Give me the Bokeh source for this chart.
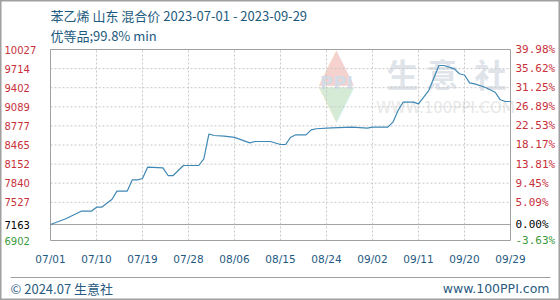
import pandas as pd
from bokeh.plotting import figure
from bokeh.models import Label, Range1d
from bokeh.embed import file_html
from bokeh.resources import INLINE

# ---------------- data ----------------
dates = ["2023-07-01", "2023-07-04", "2023-07-06", "2023-07-07", "2023-07-09",
         "2023-07-10", "2023-07-11", "2023-07-13", "2023-07-14", "2023-07-16",
         "2023-07-17", "2023-07-18", "2023-07-19", "2023-07-20", "2023-07-23",
         "2023-07-24", "2023-07-25", "2023-07-27", "2023-07-30", "2023-07-31",
         "2023-08-01", "2023-08-02", "2023-08-04", "2023-08-06", "2023-08-09",
         "2023-08-10", "2023-08-13", "2023-08-15", "2023-08-16", "2023-08-17",
         "2023-08-18", "2023-08-20", "2023-08-21", "2023-08-22", "2023-08-25",
         "2023-08-29", "2023-09-01", "2023-09-02", "2023-09-05", "2023-09-06",
         "2023-09-07", "2023-09-08", "2023-09-10", "2023-09-11", "2023-09-13",
         "2023-09-15", "2023-09-16", "2023-09-18", "2023-09-19", "2023-09-20",
         "2023-09-21", "2023-09-22", "2023-09-24", "2023-09-26", "2023-09-27",
         "2023-09-28", "2023-09-29"]
prices = [7163, 7257, 7339, 7381, 7381,
          7447, 7447, 7573, 7709, 7709,
          7895, 7895, 7916, 8101, 8091,
          7965, 7965, 8129, 8129, 8239,
          8645, 8620, 8610, 8590, 8500,
          8522, 8522, 8473, 8473, 8592,
          8631, 8631, 8713, 8730, 8746,
          8756, 8740, 8756, 8756, 8838,
          9029, 9165, 9165, 9138, 9356,
          9765, 9765, 9711, 9630, 9610,
          9482, 9465, 9410, 9328, 9204,
          9176, 9176]

base_price = 7163
y_low = 6902
y_high = 10027
y_ticks = [6902, 7163, 7527, 7840, 8152, 8465, 8777, 9089, 9402, 9714, 10027]
y_tick_labels = ["6902", "7163", "7527", "7840", "8152", "8465", "8777", "9089",
                 "9402", "9714", "10027"]
pct_labels = ["-3.63%", "0.00%", "5.09%", "9.45%", "13.81%", "18.17%", "22.53%",
              "26.89%", "31.25%", "35.62%", "39.98%"]
x_tick_labels = ["07/01", "07/10", "07/19", "07/28", "08/06", "08/15",
                 "08/24", "09/02", "09/11", "09/20", "09/29"]
title_line1 = "苯乙烯 山东 混合价 2023-07-01 - 2023-09-29"
title_line2 = "优等品;99.8% min"
footer_left = "© 2024.07 生意社"
footer_right = "www.100PPI.com"
watermark_chars = ["生", "意", "社"]
watermark_url = "WWW.100PPI.COM"

# ---------------- styling / layout constants ----------------
RED = "#c8303a"
BLUE = "#1f5a82"
GREEN = "#3c9a3c"
TITLE_COL = "#1c5a7e"
GRID = "#c8c8c8"
FRAME = "#a0a0a0"
FONT = "DejaVu Sans"
MONO = "DejaVu Sans Mono"
CJK = "Noto Sans CJK SC"
W, H = 560, 300
PLOT_L, PLOT_R, PLOT_T, PLOT_B = 50, 510, 49, 240   # plot area in canvas pixels

x = pd.to_datetime(dates)
x_ticks = pd.to_datetime(["2023/" + t for t in x_tick_labels])
x_tick_ms = [int(t.value // 10**6) for t in x_ticks]
x0_ms, x1_ms = x_tick_ms[0], x_tick_ms[-1]

ms_per_px = (x1_ms - x0_ms) / (PLOT_R - PLOT_L)
val_per_px = (y_high - y_low) / (PLOT_B - PLOT_T)
x_range = Range1d(x0_ms - PLOT_L * ms_per_px, x1_ms + (W - PLOT_R) * ms_per_px)
y_range = Range1d(y_low - (H - PLOT_B) * val_per_px, y_high + PLOT_T * val_per_px)

p = figure(width=W, height=H, output_backend="svg", toolbar_location=None,
           x_range=x_range, y_range=y_range, x_axis_type=None, y_axis_type=None,
           min_border=0)
p.grid.visible = False
p.background_fill_color = "white"
p.border_fill_color = "white"
p.outline_line_color = FRAME
p.outline_line_width = 2

# grid lines (dashed), from the tick arrays
grid_y = [t for t in y_ticks if t not in (y_low, base_price)]
p.segment(x0=[x0_ms] * len(grid_y), x1=[x1_ms] * len(grid_y), y0=grid_y, y1=grid_y,
          line_color=GRID, line_dash="2 2", line_width=1)
p.segment(x0=x_tick_ms[1:-1], x1=x_tick_ms[1:-1],
          y0=[y_low] * (len(x_tick_ms) - 2), y1=[y_high] * (len(x_tick_ms) - 2),
          line_color=GRID, line_dash="2 2", line_width=1)
# base line (0 %) and plot frame
p.segment(x0=[x0_ms], x1=[x1_ms], y0=[base_price], y1=[base_price],
          line_color=FRAME, line_width=1)
p.quad(left=[x0_ms], right=[x1_ms], bottom=[y_low], top=[y_high],
       fill_color=None, line_color=FRAME, line_width=1)

# watermark (faint, drawn beneath the data)
def wm(text, cx, cy, color, size, font=FONT, style="normal"):
    p.add_layout(Label(x=cx, y=H - cy, x_units="screen", y_units="screen", text=text,
                       text_align="center", text_baseline="middle", text_color=color,
                       text_font=font, text_font_size=size, text_font_style=style,
                       level="underlay"))

wm("▲", 336, 63, "#f5d2cd", "46px")
wm("▼", 336, 100, "#d5ebd5", "46px")
wm("PPI", 336, 82, "#d3dbe6", "18px", style="bold")
for ch, cx in zip(watermark_chars, [402, 442, 490]):
    wm(ch, cx, 72, "#dfe4ea", "32px", font=CJK, style="bold")
wm(watermark_url, 445, 107, "#e8e8e8", "15px")

# price line
p.line(x, prices, line_color="#3f88b5", line_width=1.2)

# y tick labels (left: price, right: % vs base price)
for tick, lab, pct in zip(y_ticks, y_tick_labels, pct_labels):
    col = GREEN if tick < base_price else ("black" if tick == base_price else RED)
    p.add_layout(Label(x=4, y=tick, x_units="screen", y_units="data", text=lab,
                       text_align="left", text_baseline="middle", text_color=col,
                       text_font=FONT, text_font_size="10px"))
    p.add_layout(Label(x=PLOT_R + 5, y=tick, x_units="screen", y_units="data", text=pct,
                       text_align="left", text_baseline="middle", text_color=col,
                       text_font=MONO, text_font_size="11px"))

# x tick labels
for tms, lab in zip(x_tick_ms, x_tick_labels):
    p.add_layout(Label(x=tms, y=H - 258, x_units="data", y_units="screen", text=lab,
                       text_align="center", text_baseline="middle", text_color=BLUE,
                       text_font=FONT, text_font_size="10.5px"))

# titles
p.add_layout(Label(x=PLOT_L, y=H - 15, x_units="screen", y_units="screen",
                   text=title_line1, text_align="left", text_baseline="middle",
                   text_color=TITLE_COL, text_font=CJK, text_font_size="13px"))
p.add_layout(Label(x=PLOT_L, y=H - 35, x_units="screen", y_units="screen",
                   text=title_line2, text_align="left", text_baseline="middle",
                   text_color=TITLE_COL, text_font=CJK, text_font_size="13px"))

# footer
p.segment(x0=[x_range.start + 10 * ms_per_px], x1=[x_range.start + 550 * ms_per_px],
          y0=[y_range.start + 23 * val_per_px], y1=[y_range.start + 23 * val_per_px],
          line_color=FRAME, line_width=1)
p.add_layout(Label(x=10, y=H - 288, x_units="screen", y_units="screen", text=footer_left,
                   text_align="left", text_baseline="middle", text_color="#2a5a80",
                   text_font=CJK, text_font_size="13px"))
p.add_layout(Label(x=549, y=H - 288, x_units="screen", y_units="screen", text=footer_right,
                   text_align="right", text_baseline="middle", text_color="#2a5a80",
                   text_font=FONT, text_font_size="12.5px"))

open("out.html", "w").write(file_html(p, INLINE))
